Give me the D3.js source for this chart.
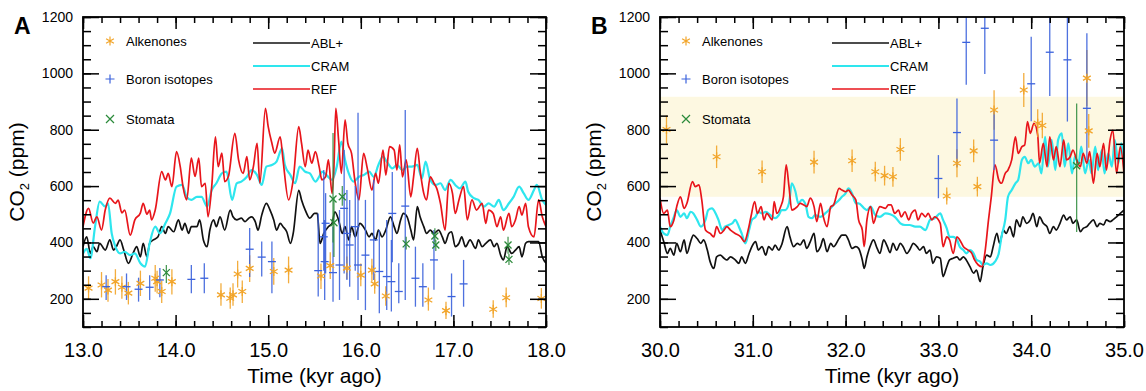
<!DOCTYPE html>
<html>
<head>
<meta charset="utf-8">
<script src="https://cdn.jsdelivr.net/npm/d3@7"></script>
<style>
body{margin:0;background:#fff}
text{font-family:"Liberation Sans",Arial,Helvetica,sans-serif}
</style>
</head>
<body>
<svg id="chart" width="1146" height="391"></svg>
<script>
// ---- data (time kyr ago, CO2 ppm) ----
var yTicks = [200, 400, 600, 800, 1000, 1200];
var xTicksA = [13, 14, 15, 16, 17, 18];
var xTicksB = [30, 31, 32, 33, 34, 35];
var legendPoints = ["Alkenones", "Boron isotopes", "Stomata"];
var legendLines = ["ABL+", "CRAM", "REF"];
var bandB = [562, 917];

var refA = [[13.00,456],[13.06,521],[13.11,469],[13.15,491],[13.20,444],[13.24,515],[13.29,557],[13.35,539],[13.38,550],[13.42,505],[13.45,515],[13.51,426],[13.56,480],[13.62,505],[13.65,539],[13.69,500],[13.72,515],[13.74,480],[13.78,515],[13.85,651],[13.89,622],[13.92,645],[13.96,598],[14.01,722],[14.05,669],[14.08,598],[14.12,551],[14.17,699],[14.21,634],[14.25,699],[14.28,598],[14.32,610],[14.35,491],[14.39,598],[14.43,775],[14.46,669],[14.50,717],[14.53,616],[14.57,634],[14.64,787],[14.68,693],[14.73,645],[14.77,705],[14.80,622],[14.84,669],[14.88,752],[14.91,611],[14.97,876],[15.00,811],[15.04,752],[15.07,717],[15.13,775],[15.16,693],[15.22,551],[15.27,622],[15.33,811],[15.36,752],[15.40,669],[15.43,728],[15.47,681],[15.51,722],[15.55,669],[15.58,622],[15.62,633],[15.65,693],[15.69,574],[15.71,669],[15.73,876],[15.76,764],[15.79,645],[15.83,835],[15.86,752],[15.90,716],[15.94,610],[15.98,551],[16.03,716],[16.07,663],[16.12,586],[16.16,645],[16.19,610],[16.24,728],[16.27,639],[16.31,740],[16.36,728],[16.39,657],[16.42,746],[16.45,633],[16.49,693],[16.54,562],[16.57,633],[16.61,734],[16.64,657],[16.68,574],[16.71,551],[16.75,633],[16.79,610],[16.82,592],[16.86,539],[16.91,444],[16.95,610],[16.99,574],[17.02,503],[17.06,551],[17.11,598],[17.15,480],[17.20,551],[17.25,515],[17.31,539],[17.35,468],[17.38,515],[17.43,503],[17.47,456],[17.51,491],[17.54,444],[17.60,503],[17.63,456],[17.67,480],[17.71,527],[17.74,497],[17.78,539],[17.81,456],[17.87,420],[17.92,551],[17.96,491],[18.00,456]];

var cramA = [[13.00,361],[13.04,377],[13.08,344],[13.13,456],[13.18,545],[13.24,527],[13.27,539],[13.31,432],[13.35,385],[13.40,361],[13.45,367],[13.51,355],[13.56,361],[13.62,326],[13.67,314],[13.72,397],[13.78,456],[13.83,432],[13.89,468],[13.94,503],[14.01,598],[14.07,604],[14.12,562],[14.17,551],[14.23,562],[14.28,562],[14.34,527],[14.39,586],[14.44,610],[14.50,645],[14.55,651],[14.61,551],[14.66,610],[14.71,616],[14.77,633],[14.82,657],[14.88,639],[14.93,604],[14.98,669],[15.04,675],[15.09,687],[15.15,734],[15.18,675],[15.24,639],[15.29,610],[15.34,669],[15.40,651],[15.45,645],[15.51,616],[15.55,633],[15.58,651],[15.63,639],[15.69,622],[15.74,669],[15.79,758],[15.83,693],[15.87,645],[15.92,616],[15.98,633],[16.03,639],[16.09,651],[16.14,633],[16.19,675],[16.24,705],[16.28,687],[16.34,663],[16.39,675],[16.45,657],[16.50,669],[16.55,669],[16.61,675],[16.66,627],[16.70,687],[16.75,622],[16.81,604],[16.86,610],[16.91,586],[16.97,622],[17.02,604],[17.07,592],[17.13,616],[17.16,580],[17.22,557],[17.27,551],[17.33,527],[17.38,539],[17.44,527],[17.49,551],[17.54,515],[17.60,539],[17.65,562],[17.71,598],[17.76,574],[17.81,551],[17.87,586],[17.90,604],[17.96,551],[18.00,533]];

var ablA = [[13.00,385],[13.04,420],[13.08,361],[13.11,385],[13.15,367],[13.18,397],[13.24,373],[13.29,409],[13.33,373],[13.36,385],[13.40,409],[13.44,373],[13.49,326],[13.54,361],[13.58,385],[13.62,349],[13.65,397],[13.69,349],[13.72,397],[13.76,409],[13.81,420],[13.85,456],[13.89,432],[13.92,456],[13.98,438],[14.03,480],[14.07,444],[14.10,468],[14.14,432],[14.17,456],[14.23,456],[14.26,480],[14.30,409],[14.34,385],[14.37,444],[14.41,480],[14.44,456],[14.48,491],[14.53,444],[14.59,515],[14.62,491],[14.66,480],[14.71,486],[14.75,474],[14.79,486],[14.82,491],[14.86,474],[14.89,444],[14.93,497],[14.98,539],[15.02,515],[15.06,480],[15.09,444],[15.13,468],[15.16,456],[15.20,438],[15.24,397],[15.27,432],[15.33,585],[15.36,551],[15.40,515],[15.45,486],[15.50,503],[15.53,503],[15.56,397],[15.60,432],[15.65,456],[15.69,468],[15.72,509],[15.76,480],[15.80,432],[15.83,456],[15.87,409],[15.90,456],[15.94,420],[15.99,468],[16.05,444],[16.09,420],[16.12,432],[16.16,409],[16.19,444],[16.23,420],[16.27,444],[16.32,491],[16.36,456],[16.39,432],[16.43,480],[16.46,503],[16.50,491],[16.54,444],[16.57,409],[16.61,527],[16.64,491],[16.68,456],[16.71,432],[16.75,444],[16.79,432],[16.84,444],[16.88,420],[16.91,397],[16.95,432],[16.98,438],[17.02,385],[17.06,397],[17.09,420],[17.13,385],[17.18,409],[17.24,379],[17.27,409],[17.31,385],[17.35,397],[17.40,409],[17.44,385],[17.47,397],[17.51,355],[17.54,338],[17.58,385],[17.63,361],[17.67,373],[17.71,385],[17.74,349],[17.78,397],[17.81,403],[17.87,403],[17.92,403],[17.96,349],[18.00,326]];

var refB = [[30.00,557],[30.04,503],[30.08,515],[30.11,456],[30.15,480],[30.18,527],[30.22,562],[30.26,521],[30.29,539],[30.35,616],[30.38,598],[30.42,604],[30.45,551],[30.49,444],[30.54,432],[30.58,420],[30.61,456],[30.65,432],[30.69,444],[30.72,456],[30.76,444],[30.81,432],[30.87,420],[30.91,403],[30.95,444],[30.98,491],[31.02,545],[31.05,503],[31.09,527],[31.12,480],[31.15,503],[31.21,480],[31.23,545],[31.26,503],[31.30,527],[31.33,562],[31.36,675],[31.39,598],[31.42,515],[31.48,527],[31.51,539],[31.55,533],[31.58,527],[31.62,557],[31.66,527],[31.69,474],[31.73,539],[31.76,491],[31.80,456],[31.84,527],[31.87,533],[31.93,592],[31.96,586],[32.00,580],[32.03,586],[32.07,568],[32.11,551],[32.14,480],[32.18,444],[32.20,385],[32.23,480],[32.27,527],[32.30,468],[32.34,509],[32.37,527],[32.43,521],[32.46,533],[32.49,533],[32.53,503],[32.57,515],[32.60,491],[32.64,509],[32.68,480],[32.71,503],[32.75,515],[32.78,480],[32.82,503],[32.86,491],[32.89,503],[32.93,480],[32.96,491],[33.02,468],[33.05,385],[33.09,420],[33.12,409],[33.16,361],[33.20,420],[33.23,409],[33.27,385],[33.32,373],[33.36,361],[33.39,338],[33.43,320],[33.47,314],[33.50,361],[33.54,480],[33.57,562],[33.61,675],[33.65,622],[33.68,610],[33.72,645],[33.75,657],[33.79,693],[33.83,775],[33.86,716],[33.90,740],[33.93,746],[33.96,829],[33.99,787],[34.03,823],[34.07,781],[34.09,681],[34.13,752],[34.17,669],[34.20,775],[34.24,693],[34.27,740],[34.31,669],[34.35,764],[34.38,693],[34.42,704],[34.45,728],[34.49,693],[34.53,669],[34.56,716],[34.60,681],[34.63,722],[34.67,610],[34.71,716],[34.74,669],[34.78,752],[34.81,657],[34.85,764],[34.88,799],[34.92,645],[34.96,740],[35.00,645]];

var cramB = [[30.00,456],[30.04,432],[30.08,426],[30.11,456],[30.15,491],[30.18,515],[30.22,491],[30.26,503],[30.29,486],[30.33,509],[30.36,503],[30.40,480],[30.44,456],[30.49,480],[30.52,515],[30.56,521],[30.60,503],[30.63,480],[30.67,444],[30.70,456],[30.74,462],[30.78,468],[30.81,480],[30.85,456],[30.88,432],[30.92,397],[30.96,444],[30.99,480],[31.03,491],[31.06,509],[31.10,503],[31.14,509],[31.19,497],[31.24,486],[31.28,497],[31.31,515],[31.35,515],[31.39,539],[31.42,610],[31.46,580],[31.49,539],[31.53,551],[31.57,533],[31.60,491],[31.64,486],[31.67,497],[31.73,491],[31.78,503],[31.82,515],[31.87,533],[31.93,551],[31.96,562],[32.00,574],[32.03,592],[32.07,574],[32.11,539],[32.14,539],[32.20,521],[32.23,515],[32.27,527],[32.32,497],[32.37,491],[32.43,503],[32.48,500],[32.53,491],[32.59,468],[32.64,462],[32.69,462],[32.75,456],[32.80,456],[32.86,444],[32.91,480],[32.96,486],[33.02,503],[33.05,480],[33.09,450],[33.12,420],[33.16,420],[33.20,409],[33.23,385],[33.27,373],[33.30,361],[33.34,373],[33.38,361],[33.41,338],[33.45,332],[33.48,320],[33.52,326],[33.56,320],[33.61,332],[33.65,361],[33.68,420],[33.72,480],[33.75,562],[33.79,586],[33.83,610],[33.86,622],[33.90,693],[33.93,704],[33.97,681],[34.00,693],[34.04,669],[34.08,681],[34.11,645],[34.15,775],[34.18,669],[34.22,764],[34.26,657],[34.29,764],[34.33,787],[34.36,669],[34.40,752],[34.44,645],[34.47,704],[34.51,681],[34.54,740],[34.58,645],[34.62,693],[34.65,645],[34.69,740],[34.72,657],[34.76,728],[34.79,645],[34.83,716],[34.87,669],[34.90,764],[34.94,681],[34.97,752],[35.00,669]];

var ablB = [[30.00,444],[30.04,403],[30.08,361],[30.11,379],[30.15,355],[30.18,397],[30.22,367],[30.26,409],[30.29,361],[30.33,403],[30.36,426],[30.40,414],[30.44,397],[30.47,409],[30.51,373],[30.54,332],[30.58,308],[30.61,349],[30.65,355],[30.69,344],[30.72,338],[30.76,349],[30.81,338],[30.85,326],[30.88,349],[30.92,326],[30.96,361],[30.99,385],[31.03,403],[31.06,373],[31.10,385],[31.14,355],[31.17,385],[31.21,373],[31.24,391],[31.28,373],[31.31,391],[31.37,456],[31.40,420],[31.44,385],[31.48,397],[31.51,391],[31.55,409],[31.58,379],[31.62,403],[31.66,432],[31.69,367],[31.73,385],[31.76,414],[31.80,367],[31.84,397],[31.87,385],[31.93,414],[31.96,426],[32.00,426],[32.03,409],[32.07,379],[32.11,385],[32.14,379],[32.18,338],[32.20,308],[32.23,349],[32.27,391],[32.30,409],[32.34,379],[32.37,361],[32.41,409],[32.45,385],[32.48,364],[32.51,397],[32.55,373],[32.59,397],[32.62,385],[32.66,361],[32.69,373],[32.73,397],[32.77,385],[32.80,373],[32.84,385],[32.87,361],[32.91,373],[32.94,326],[32.98,349],[33.02,344],[33.05,279],[33.09,314],[33.12,338],[33.16,344],[33.20,349],[33.23,338],[33.27,349],[33.30,338],[33.34,314],[33.38,291],[33.41,302],[33.45,261],[33.48,314],[33.52,355],[33.56,349],[33.59,385],[33.63,432],[33.66,397],[33.70,444],[33.73,432],[33.77,456],[33.81,420],[33.84,480],[33.88,456],[33.91,491],[33.95,468],[33.99,480],[34.02,503],[34.06,456],[34.09,491],[34.13,468],[34.17,456],[34.20,432],[34.24,456],[34.27,444],[34.31,468],[34.35,497],[34.38,480],[34.42,491],[34.45,468],[34.49,480],[34.53,438],[34.56,450],[34.60,456],[34.63,468],[34.67,480],[34.71,456],[34.74,468],[34.78,462],[34.81,480],[34.85,474],[34.88,480],[34.92,491],[34.96,503],[35.00,515]];

// proxies: [time, value, bar low, bar high]
var alkA = [[13.06,238,198,280],[13.20,249,205,295],[13.27,231,190,270],[13.35,261,215,305],[13.42,241,200,280],[13.49,220,180,260],[13.62,255,210,300],[13.78,273,225,320],[13.80,261,220,300],[13.85,226,185,265],[13.96,261,215,305],[14.49,214,175,255],[14.59,202,165,240],[14.62,214,175,255],[14.67,288,240,335],[14.72,226,185,265],[14.80,308,260,355],[15.06,297,250,345],[15.22,302,255,350],[15.57,281,235,325],[15.67,318,270,365],[15.85,309,270,350],[16.00,284,245,325],[16.12,302,262,342],[16.15,253,218,290],[16.27,210,175,245],[16.73,196,158,240],[16.92,158,128,190],[17.43,163,133,195],[17.57,204,170,240],[17.95,201,165,238]];
var boronA = [[13.25,243,196,284],[13.47,243,196,290],[13.60,234,190,275],[13.72,241,196,284],[13.83,267,206,309],[14.17,269,220,320],[14.31,273,220,326],[14.80,376,277,451],[14.93,348,279,403],[15.04,332,220,403],[15.54,300,208,503],[15.60,420,300,657],[15.61,332,196,480],[15.62,468,290,575],[15.70,293,190,456],[15.77,320,196,515],[15.82,521,290,728],[15.85,432,267,586],[15.88,391,243,551],[15.94,456,300,600],[15.97,320,196,860],[16.05,355,160,551],[16.14,409,267,622],[16.20,297,149,444],[16.28,279,160,480],[16.33,261,155,409],[16.34,503,330,650],[16.41,226,184,326],[16.48,529,196,870],[16.59,273,172,385],[16.67,243,172,326],[16.79,338,232,444],[16.98,208,137,290],[17.11,253,172,338]];
var stomataA = [[13.90,293,256,320],[15.70,554,400,788],[15.71,470,348,560],[15.80,562,530,600],[16.49,395,375,420],[16.80,423,400,450],[16.81,391,370,410],[17.59,391,360,420],[17.60,340,320,360]];
var alkB = [[30.07,801,751,851],[30.61,704,664,744],[31.10,651,611,691],[31.66,685,645,725],[32.07,690,650,730],[32.32,651,616,686],[32.42,637,602,672],[32.51,633,598,668],[32.59,730,690,770],[33.09,565,535,595],[33.20,681,631,731],[33.38,725,685,765],[33.42,598,563,633],[33.60,870,800,940],[33.92,941,881,1001],[34.07,823,773,873],[34.12,815,770,860],[34.60,983,883,1083],[34.62,796,736,856]];
var boronB = [[33.00,627,557,710],[33.20,790,669,911],[33.30,1110,960,1250],[33.50,1160,998,1300],[33.60,763,657,870],[34.00,963,830,1130],[34.20,1075,920,1250],[34.39,1048,829,1250],[34.60,876,692,1142]];
var stomataB = [[34.49,672,437,893]];

var colRef = "#e8151b", colCram = "#2ee6ee", colAbl = "#111111";
var colAlk = "#f2a52a", colBoron = "#3b62dc", colStom = "#2b8a3a";

var svg = d3.select("#chart");

var panels = [
    {id:"A", left:83, right:546, xDomain:[13,18], xTicks:xTicksA, letterX:14,
     ptX:110, lineX:253, ref:refA, cram:cramA, abl:ablA, alk:alkA, boron:boronA, stom:stomataA, band:null},
    {id:"B", left:660, right:1124, xDomain:[30,35], xTicks:xTicksB, letterX:591,
     ptX:686, lineX:832, ref:refB, cram:cramB, abl:ablB, alk:alkB, boron:boronB, stom:stomataB, band:bandB}
];

// note: "top" is a reserved window property, so use other names
var plotTop = 17, plotBottom = 327;

panels.forEach(drawPanel);

function asteriskPath(r) {
    var c = r * Math.cos(Math.PI/6), s = r * Math.sin(Math.PI/6);
    return "M0," + (-r) + "V" + r +
        "M" + (-c) + "," + (-s) + "L" + c + "," + s +
        "M" + (-c) + "," + s + "L" + c + "," + (-s);
}

function drawPanel(p) {
    var x = d3.scaleLinear().domain(p.xDomain).range([p.left, p.right]);
    var y = d3.scaleLinear().domain([100, 1200]).range([plotBottom, plotTop]);
    var g = svg.append("g");

    var clipId = "clip" + p.id;
    svg.append("clipPath").attr("id", clipId)
        .append("rect").attr("x", p.left).attr("y", plotTop)
        .attr("width", p.right - p.left).attr("height", plotBottom - plotTop);

    var plot = g.append("g").attr("clip-path", "url(#" + clipId + ")");

    // shaded band (panel B)
    if (p.band) {
        plot.append("rect")
            .attr("x", p.left).attr("width", p.right - p.left)
            .attr("y", y(p.band[1])).attr("height", y(p.band[0]) - y(p.band[1]))
            .attr("fill", "#fdf8e1");
    }

    // model lines
    var line = d3.line().curve(d3.curveMonotoneX)
        .x(function(d){ return x(d[0]); }).y(function(d){ return y(d[1]); });
    plot.append("path").datum(p.abl).attr("d", line).attr("fill", "none")
        .attr("stroke", colAbl).attr("stroke-width", 1.7);
    plot.append("path").datum(p.cram).attr("d", line).attr("fill", "none")
        .attr("stroke", colCram).attr("stroke-width", 2.2);
    plot.append("path").datum(p.ref).attr("d", line).attr("fill", "none")
        .attr("stroke", colRef).attr("stroke-width", 1.7);

    // proxy error bars
    function bars(data, col, w) {
        plot.selectAll(null).data(data).enter().append("line")
            .attr("x1", function(d){ return x(d[0]); })
            .attr("x2", function(d){ return x(d[0]); })
            .attr("y1", function(d){ return y(d[2]); })
            .attr("y2", function(d){ return y(d[3]); })
            .attr("stroke", col).attr("stroke-width", w).attr("opacity", 0.9);
    }
    bars(p.alk, colAlk, 1.3);
    bars(p.boron, colBoron, 1.3);
    bars(p.stom, colStom, 1.2);

    plot.selectAll(null).data(p.alk).enter().append("path")
        .attr("transform", function(d){ return "translate(" + x(d[0]) + "," + y(d[1]) + ")"; })
        .attr("d", asteriskPath(4.5)).attr("stroke", colAlk).attr("stroke-width", 1.3).attr("fill", "none");
    plot.selectAll(null).data(p.boron).enter().append("path")
        .attr("transform", function(d){ return "translate(" + x(d[0]) + "," + y(d[1]) + ")"; })
        .attr("d", "M-4,0H4").attr("stroke", colBoron).attr("stroke-width", 1.3);
    plot.selectAll(null).data(p.stom).enter().append("path")
        .attr("transform", function(d){ return "translate(" + x(d[0]) + "," + y(d[1]) + ")"; })
        .attr("d", "M-3.5,-3.5L3.5,3.5M-3.5,3.5L3.5,-3.5").attr("stroke", colStom).attr("stroke-width", 1.3);

    // axes: major + minor ticks on all four sides, pointing inward
    var minorX = d3.range(p.xDomain[0], p.xDomain[1] + 0.001, 0.2);
    var minorY = d3.range(100, 1201, 50);
    var fmtX = d3.format(".1f");

    function axis(gen, tr, vals, size, labels, pad) {
        var a = gen.tickValues(vals).tickSize(size).tickPadding(pad || 3)
            .tickFormat(labels ? labels : "");
        var ag = g.append("g").attr("transform", tr).call(a);
        ag.select(".domain").remove();
        ag.selectAll("line").attr("stroke", "#000").attr("stroke-width", 1.5);
        return ag;
    }

    var bx = axis(d3.axisBottom(x), "translate(0," + plotBottom + ")", p.xTicks, -12, fmtX, 16);
    bx.selectAll("text").attr("font-size", 20).attr("fill", "#000");
    axis(d3.axisBottom(x), "translate(0," + plotBottom + ")", minorX, -6);
    axis(d3.axisTop(x), "translate(0," + plotTop + ")", p.xTicks, -12);
    axis(d3.axisTop(x), "translate(0," + plotTop + ")", minorX, -6);

    var ly = axis(d3.axisLeft(y), "translate(" + p.left + ",0)", yTicks, -16, d3.format("d"), 10);
    ly.selectAll("text").attr("font-size", 14).attr("fill", "#000");
    axis(d3.axisLeft(y), "translate(" + p.left + ",0)", minorY, -8);
    axis(d3.axisRight(y), "translate(" + p.right + ",0)", yTicks, -16);
    axis(d3.axisRight(y), "translate(" + p.right + ",0)", minorY, -8);

    g.append("rect").attr("x", p.left).attr("y", plotTop)
        .attr("width", p.right - p.left).attr("height", plotBottom - plotTop)
        .attr("fill", "none").attr("stroke", "#000").attr("stroke-width", 1.8);

    // titles
    g.append("text").attr("x", (p.left + p.right) / 2).attr("y", 383)
        .attr("text-anchor", "middle").attr("font-size", 21).text("Time (kyr ago)");

    var yt = g.append("text")
        .attr("transform", "translate(" + (p.left - 59) + "," + ((plotTop + plotBottom) / 2) + ") rotate(-90)")
        .attr("text-anchor", "middle").attr("font-size", 21);
    yt.append("tspan").text("CO");
    yt.append("tspan").attr("font-size", 13).attr("dy", 5).text("2");
    yt.append("tspan").attr("dy", -5).text(" (ppm)");

    g.append("text").attr("x", p.letterX).attr("y", 34)
        .attr("font-size", 23).attr("font-weight", "bold").text(p.id);

    // legend: proxies
    var legY = [41, 79, 119];
    var lg = g.append("g");
    lg.append("path").attr("transform", "translate(" + p.ptX + "," + legY[0] + ")")
        .attr("d", asteriskPath(4.5)).attr("stroke", colAlk).attr("stroke-width", 1.2).attr("fill", "none");
    lg.append("path").attr("transform", "translate(" + p.ptX + "," + legY[1] + ")")
        .attr("d", "M-4.5,0H4.5M0,-4.5V4.5").attr("stroke", colBoron).attr("stroke-width", 1.2);
    lg.append("path").attr("transform", "translate(" + p.ptX + "," + legY[2] + ")")
        .attr("d", "M-4,-4L4,4M-4,4L4,-4").attr("stroke", colStom).attr("stroke-width", 1.2);
    lg.selectAll(null).data(legendPoints).enter().append("text")
        .attr("x", p.ptX + 16).attr("y", function(d, i){ return legY[i]; })
        .attr("dy", "0.35em").attr("font-size", 13).text(function(d){ return d; });

    // legend: model lines
    var lineY = [43, 66, 89];
    var lineCols = [colAbl, colCram, colRef];
    lg.selectAll(null).data(legendLines).enter().append("line")
        .attr("x1", p.lineX).attr("x2", p.lineX + 57)
        .attr("y1", function(d, i){ return lineY[i]; }).attr("y2", function(d, i){ return lineY[i]; })
        .attr("stroke", function(d, i){ return lineCols[i]; })
        .attr("stroke-width", function(d, i){ return i == 1 ? 2.2 : 1.7; });
    lg.selectAll(null).data(legendLines).enter().append("text")
        .attr("x", p.lineX + 58).attr("y", function(d, i){ return lineY[i]; })
        .attr("dy", "0.35em").attr("font-size", 13).text(function(d){ return d; });
}
</script>
</body>
</html>
